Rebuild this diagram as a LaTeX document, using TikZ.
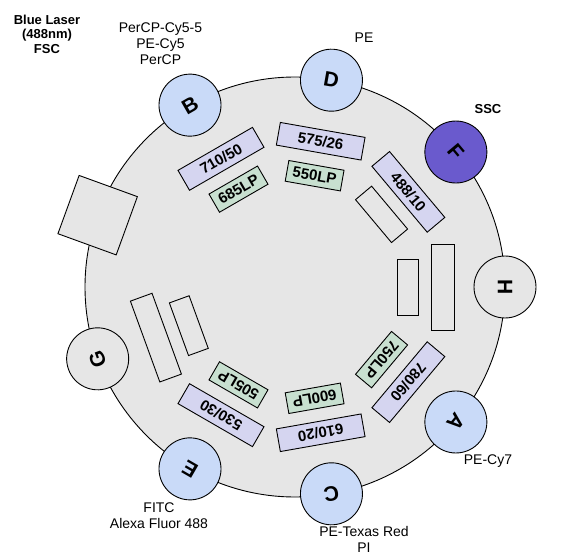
\documentclass[tikz,border=0pt]{standalone}
\usepackage{fontspec}
\setsansfont{Liberation Sans}
\usepackage{tikz}
\usetikzlibrary{positioning}
\definecolor{wheelgray}{HTML}{E6E6E6}
\definecolor{detblue}{HTML}{C9DAF8}
\definecolor{sscpurple}{HTML}{6A5ACD}
\definecolor{bplav}{HTML}{D5D5F0}
\definecolor{lpgreen}{HTML}{C8E0D0}
\tikzset{
  detector/.style={
    circle, draw=black, fill=#1, line width=0.9pt,
    minimum size=62pt, inner sep=0pt,
    font=\sffamily\bfseries\fontsize{21}{21}\selectfont
  },
  detector/.default=detblue,
  bpbox/.style={
    rectangle, draw=black, fill=#1, line width=0.9pt,
    minimum width=86pt, minimum height=23pt, inner sep=0pt,
    font=\sffamily\bfseries\fontsize{15}{15}\selectfont
  },
  bpbox/.default=bplav,
  lpbox/.style={
    rectangle, draw=black, fill=#1, line width=0.9pt,
    minimum width=56pt, minimum height=21pt, inner sep=0pt,
    font=\sffamily\bfseries\fontsize{15}{15}\selectfont
  },
  lpbox/.default=lpgreen,
  labelnode/.style={
    font=\sffamily\fontsize{14}{16}\selectfont, align=center, inner sep=0pt
  },
  boldlabel/.style={
    font=\sffamily\bfseries\fontsize{13}{14.5}\selectfont, align=center,
    inner sep=0pt
  },
}

\begin{document}
\begin{tikzpicture}[x=1pt, y=1pt]
  \useasboundingbox (-295,-267) rectangle (267,287);

  \node[circle, draw=black, fill=wheelgray, line width=0.9pt,
    minimum size=420pt, inner sep=0pt] (wheel) at (0,0) {};

  % Filters
  \node[bpbox=wheelgray, rotate=-90] (bpH) at (0:148) {};
  \node[lpbox=wheelgray, rotate=-90] (lpH) at (0:113) {};
  \node[bpbox, rotate=-50] (bpF) at (40:148) {488/10};
  \node[lpbox=wheelgray, rotate=-50] (lpF) at (40:113) {};
  \node[bpbox, rotate=-10] (bpD) at (80:148) {575/26};
  \node[lpbox, rotate=-10] (lpD) at (80:113) {550LP};
  \node[bpbox, rotate=30] (bpB) at (120:148) {710/50};
  \node[lpbox, rotate=30] (lpB) at (120:113) {685LP};
  \node[bpbox=wheelgray, rotate=110] (bpG) at (200:148) {};
  \node[lpbox=wheelgray, rotate=110] (lpG) at (200:113) {};
  \node[bpbox, rotate=150] (bpE) at (240:148) {530/30};
  \node[lpbox, rotate=150] (lpE) at (240:113) {505LP};
  \node[bpbox, rotate=190] (bpC) at (280:148) {610/20};
  \node[lpbox, rotate=190] (lpC) at (280:113) {600LP};
  \node[bpbox, rotate=230] (bpA) at (320:148) {780/60};
  \node[lpbox, rotate=230] (lpA) at (320:113) {750LP};

  % Detectors
  \node[detector=wheelgray, rotate=-90] (detH) at (0:210) {H};
  \node[detector=sscpurple, rotate=-50] (detF) at (40:210) {F};
  \node[detector, rotate=-10] (detD) at (80:210) {D};
  \node[detector, rotate=30] (detB) at (120:210) {B};
  \node[rectangle, draw=black, fill=wheelgray, line width=0.9pt,
    minimum size=62pt, inner sep=0pt, rotate=70] (laser) at (160:210) {};
  \node[detector=wheelgray, rotate=110] (detG) at (200:210) {G};
  \node[detector, rotate=150] (detE) at (240:210) {E};
  \node[detector, rotate=190] (detC) at (280:210) {C};
  \node[detector, rotate=230] (detA) at (320:210) {A};

  % Annotations
  \node[boldlabel] (lasertxt) at (-248,253) {Blue Laser\\(488nm)\\FSC};
  \node[labelnode] (txtB) at (-134.5,243) {PerCP-Cy5-5\\PE-Cy5\\PerCP};
  \node[labelnode] (txtD) at (69,249) {PE};
  \node[boldlabel] (txtF) at (193,178) {SSC};
  \node[labelnode] (txtA) at (193,-174) {PE-Cy7};
  \node[labelnode] (txtC) at (69,-252) {PE-Texas Red\\PI};
  \node[labelnode] (txtE) at (-136,-229) {FITC\\Alexa Fluor 488};
\end{tikzpicture}
\end{document}
